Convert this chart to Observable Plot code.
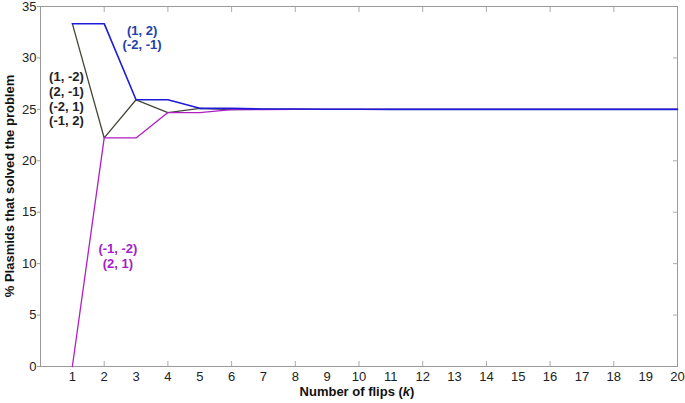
<!DOCTYPE html>
<html><head><meta charset="utf-8">
<script src="https://cdn.jsdelivr.net/npm/d3@7"></script>
<script src="https://cdn.jsdelivr.net/npm/@observablehq/plot@0.6"></script>
<style>body{margin:0;background:#fff} #chart svg{display:block}</style>
</head><body><div id="chart"></div>
<script>
const flips = [1,2,3,4,5,6,7,8,9,10,11,12,13,14,15,16,17,18,19,20];
const evenTicks = [2,4,6,8,10,12,14,16,18];
const yTicks = [0,5,10,15,20,25,30,35];
const innerYTicks = [5,10,15,20,25,30];
const blueVals    = [33.33,33.33,25.93,25.93,25.10,25.10,25.03,25.03,25.01,25.01,25,25,25,25,25,25,25,25,25,25];
const blackVals   = [33.33,22.22,25.93,24.69,25.10,24.97,25.01,25.00,25,25,25,25,25,25,25,25,25,25,25,25];
const magentaVals = [0,22.22,22.22,24.69,24.69,24.97,24.97,24.99,24.99,25,25,25,25,25,25,25,25,25,25,25];
const seriesNames = ["black", "magenta", "blue"];
const lineColors = {black: "#45453a", magenta: "#b01ec4", blue: "#1c1cd8"};
const centeredNotes = [
  {x: 3.19, y: 32.0, text: "(1, 2)\n(-2, -1)", color: "#2340a8"},
  {x: 2.43, y: 10.75, text: "(-1, -2)\n(2, 1)", color: "#a21ec8"}
];
const leftNotes = [
  {x: 0.27, y: 26.05, text: "(1, -2)\n(2, -1)\n(-2, 1)\n(-1, 2)", color: "#222222"}
];

const valuesBySeries = {black: blackVals, magenta: magentaVals, blue: blueVals};
const rows = seriesNames.flatMap(s => flips.map((f, i) => ({flip: f, value: valuesBySeries[s][i], series: s})));

const chart = Plot.plot({
  width: 685, height: 403,
  marginLeft: 40, marginRight: 8, marginTop: 6, marginBottom: 37,
  x: {domain: [0, 20]},
  y: {domain: [0, 35]},
  style: {fontFamily: "'Liberation Sans', Arial, sans-serif", fontSize: "13px", color: "#222", background: "#fff"},
  marks: [
    Plot.frame({stroke: "#999"}),
    Plot.axisX(flips, {tickSize: 0, tickPadding: 5, label: null, fontSize: 13}),
    Plot.axisX(evenTicks, {tickSize: -5, text: null, label: null, stroke: "#aaa"}),
    Plot.axisX(evenTicks, {anchor: "top", tickSize: -5, text: null, label: null, stroke: "#aaa"}),
    Plot.axisY(yTicks, {tickSize: 3, tickPadding: 1, label: null, stroke: "#999", fontSize: 13}),
    Plot.axisY(innerYTicks, {anchor: "right", tickSize: -5, text: null, label: null, stroke: "#aaa"}),
    Plot.line(rows, {x: "flip", y: "value", z: "series", stroke: d => lineColors[d.series], strokeWidth: d => d.series === "blue" ? 1.6 : 1.3}),
    Plot.text(centeredNotes, {x: "x", y: "y", text: "text", fill: "color", textAnchor: "middle", fontWeight: "bold", fontSize: 13, lineHeight: 1.12}),
    Plot.text(leftNotes, {x: "x", y: "y", text: "text", fill: "color", textAnchor: "start", fontWeight: "bold", fontSize: 13, lineHeight: 1.12})
  ]
});
document.getElementById("chart").append(chart);

const svg = d3.select(chart);
svg.append("text")
  .attr("transform", "translate(14,186) rotate(-90)")
  .attr("text-anchor", "middle")
  .attr("font-weight", "bold").attr("font-size", 13).attr("fill", "#111")
  .text("% Plasmids that solved the problem");
const xl = svg.append("text")
  .attr("x", 357).attr("y", 396)
  .attr("text-anchor", "middle")
  .attr("font-weight", "bold").attr("font-size", 13).attr("fill", "#111");
xl.append("tspan").text("Number of flips (");
xl.append("tspan").attr("font-style", "italic").text("k");
xl.append("tspan").text(")");
</script>
</body></html>
